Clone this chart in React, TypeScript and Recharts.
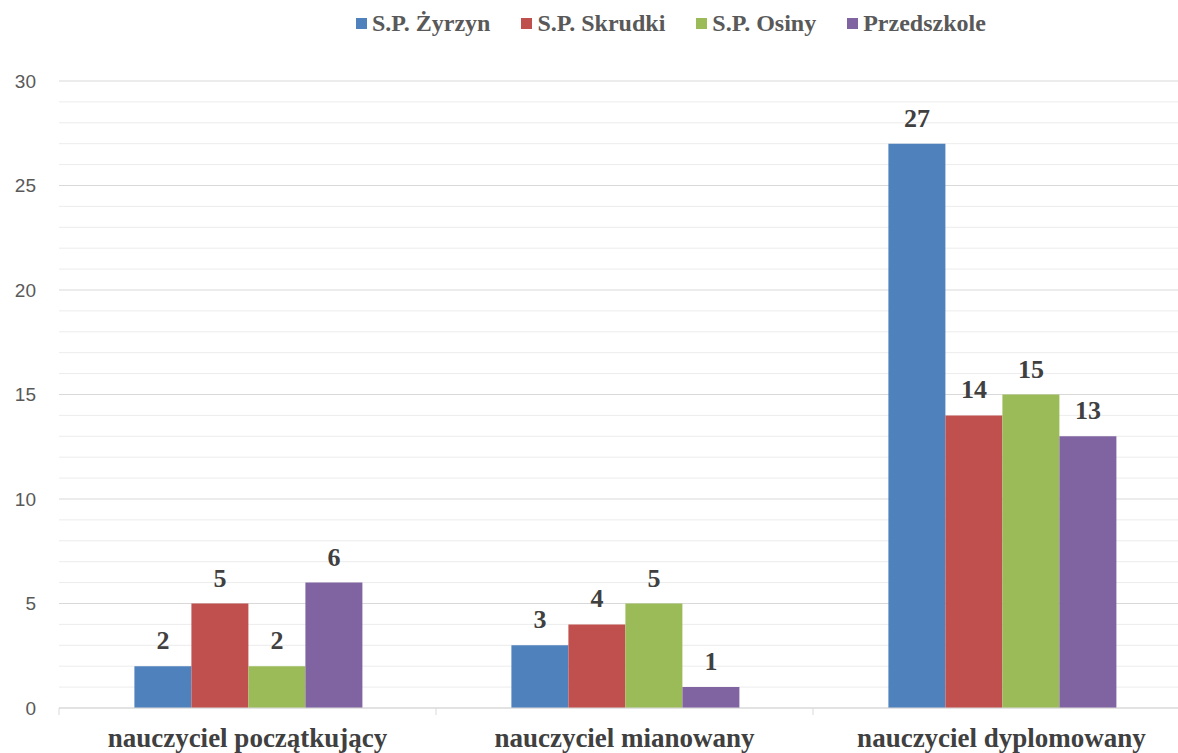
import React from 'react';
import { BarChart, Bar, XAxis, YAxis, CartesianGrid, LabelList } from 'recharts';

const categories = ['nauczyciel początkujący', 'nauczyciel mianowany', 'nauczyciel dyplomowany'];
const zyrzyn = [2, 3, 27];
const skrudki = [5, 4, 14];
const osiny = [2, 5, 15];
const przedszkole = [6, 1, 13];

const seriesNames = ['S.P. Żyrzyn', 'S.P. Skrudki', 'S.P. Osiny', 'Przedszkole'];
const seriesKeys = ['zyrzyn', 'skrudki', 'osiny', 'przedszkole'];
const seriesColors = ['#4F81BD', '#C0504D', '#9BBB59', '#8064A2'];

const majorTicks = [0, 5, 10, 15, 20, 25, 30];
// minor gridlines between the major ones
const minorTicks = [1, 2, 3, 4, 6, 7, 8, 9, 11, 12, 13, 14, 16, 17, 18, 19, 21, 22, 23, 24, 26, 27, 28, 29];

const data = categories.map((name, i) => ({
  name,
  zyrzyn: zyrzyn[i],
  skrudki: skrudki[i],
  osiny: osiny[i],
  przedszkole: przedszkole[i],
}));

const serif = '"Liberation Serif", "Times New Roman", serif';
const yMax = majorTicks[majorTicks.length - 1];

// category label plus a tick mark on the left boundary of each category
const CategoryTick = (props: any) => {
  const { x, y, payload } = props;
  const half = payload.offset || 0;
  return (
    <g>
      <line x1={x - half} y1={y} x2={x - half} y2={y + 7} stroke="#d9d9d9" strokeWidth={1} />
      <text
        x={x}
        y={y + 39}
        textAnchor="middle"
        fontFamily={serif}
        fontWeight="bold"
        fontSize={27}
        fill="#404040"
      >
        {payload.value}
      </text>
    </g>
  );
};

// minor grid positions from the plot offset (linear value axis 0..yMax)
const minorGrid = (props: any) => {
  const { yAxis, offset } = props || {};
  if (yAxis && typeof yAxis.scale === 'function') return minorTicks.map((v) => yAxis.scale(v));
  if (!offset) return [];
  return minorTicks.map((v) => offset.top + offset.height * (1 - v / yMax));
};

export default function App() {
  return (
    <div style={{ position: 'absolute', left: 0, top: 0, width: 1178, height: 753, overflow: 'hidden', background: '#fff' }}>
      {/* Legend */}
      <div
        style={{
          position: 'absolute',
          top: 8,
          left: 356,
          display: 'flex',
          gap: 31,
          fontFamily: serif,
          fontWeight: 'bold',
          fontSize: 24,
          lineHeight: '30px',
          color: '#595959',
          zIndex: 2,
          whiteSpace: 'nowrap',
        }}
      >
        {seriesNames.map((n, i) => (
          <div key={n} style={{ display: 'flex', alignItems: 'center' }}>
            <span style={{ width: 11, height: 11, background: seriesColors[i], marginRight: 5, display: 'inline-block' }} />
            <span>{n}</span>
          </div>
        ))}
      </div>

      <BarChart
        width={1190}
        height={753}
        data={data}
        margin={{ top: 81, right: 0, left: 0, bottom: 0 }}
        barCategoryGap="20%"
        barGap={0}
      >
        <CartesianGrid vertical={false} stroke="#ececec" horizontalCoordinatesGenerator={minorGrid} />
        <CartesianGrid vertical={false} stroke="#d9d9d9" />
        <XAxis
          dataKey="name"
          height={45}
          axisLine={{ stroke: '#d9d9d9' }}
          tickLine={false}
          tickSize={0}
          tickMargin={0}
          interval={0}
          tick={<CategoryTick />}
        />
        <YAxis
          width={59}
          domain={[0, yMax]}
          ticks={majorTicks}
          axisLine={false}
          tickLine={false}
          tickSize={0}
          tickMargin={23}
          tick={{ fill: '#595959', fontSize: 19, fontFamily: '"Liberation Sans", Arial, sans-serif' }}
        />
        {seriesKeys.map((k, i) => (
          <Bar key={k} dataKey={k} name={seriesNames[i]} fill={seriesColors[i]} isAnimationActive={false}>
            <LabelList
              dataKey={k}
              position="top"
              offset={17}
              fill="#404040"
              fontFamily={serif}
              fontWeight="bold"
              fontSize={26}
            />
          </Bar>
        ))}
      </BarChart>
    </div>
  );
}
